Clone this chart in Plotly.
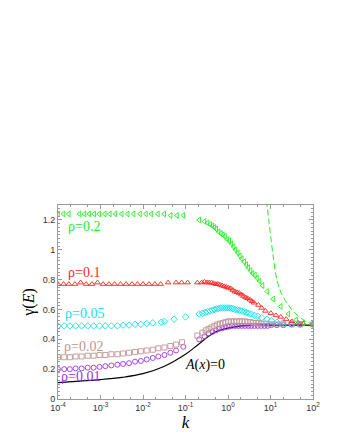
import plotly.graph_objects as go

# ---------------- data ----------------
# rho = 0.2 (green, left triangles)
k_r20 = [1.0e-4, 1.35e-4, 1.8e-4, 3.2e-4, 4.2e-4, 5.4e-4, 7.1e-4, 9.3e-4, 1.26e-3, 1.66e-3,
         2.24e-3, 3.16e-3, 4.37e-3, 6.03e-3, 8.5e-3, 1.17e-2, 1.58e-2, 2.24e-2, 3.16e-2,
         4.47e-2, 6.3e-2, 8.9e-2, 0.21, 0.28, 0.33, 0.38, 0.43, 0.48, 0.53, 0.6, 0.68, 0.76,
         0.85, 0.95, 1.07, 1.2, 1.35, 1.5, 1.7, 1.9, 2.1, 2.4, 2.7, 3.0, 3.4, 3.8, 4.3, 4.8,
         5.5, 6.5, 8.3, 11.5, 17.4, 26.3, 39.8, 58.9, 100.0]
g_r20 = [1.24, 1.24, 1.24, 1.24, 1.24, 1.24, 1.24, 1.24, 1.24, 1.24,
         1.24, 1.24, 1.24, 1.24, 1.24, 1.24, 1.24, 1.24, 1.24,
         1.23, 1.23, 1.23, 1.20, 1.19, 1.18, 1.17, 1.16, 1.15, 1.14, 1.12, 1.11, 1.10,
         1.09, 1.07, 1.06, 1.04, 1.02, 1.00, 0.98, 0.96, 0.94, 0.92, 0.90, 0.88, 0.86, 0.84,
         0.83, 0.81, 0.79, 0.76, 0.72, 0.67, 0.62, 0.57, 0.53, 0.51, 0.50]

# green dashed curve
k_dash = [7.6, 8.3, 9.1, 10.2, 12.0, 14.1, 17.8, 22.4, 26.3, 31.6, 39.8, 50.1, 63.1, 79.4, 100.0]
g_dash = [1.45, 1.30, 1.20, 1.08, 0.92, 0.80, 0.71, 0.66, 0.63, 0.60, 0.57, 0.545, 0.525, 0.51, 0.50]

# rho = 0.1 (red, up triangles)
k_r10 = [1.0e-4, 1.35e-4, 1.8e-4, 2.5e-4, 3.4e-4, 4.6e-4, 6.3e-4, 8.5e-4, 1.15e-3, 1.58e-3,
         2.14e-3, 2.95e-3, 4.0e-3, 5.5e-3, 7.4e-3, 1.0e-2, 1.38e-2, 1.9e-2, 2.6e-2,
         3.9e-2, 6.0e-2, 8.1e-2, 0.112, 0.19, 0.24, 0.28, 0.32, 0.36, 0.41, 0.46, 0.52,
         0.58, 0.65, 0.73, 0.82, 0.92, 1.03, 1.16, 1.3, 1.46, 1.64, 1.84, 2.07, 2.32, 2.6,
         2.9, 3.3, 3.7, 4.1, 5.2, 6.2, 7.6, 10.2, 13.5, 17.4, 23.4, 31.6, 44.7, 58.9, 100.0]
g_r10 = [0.77, 0.77, 0.77, 0.77, 0.78, 0.77, 0.77, 0.78, 0.77, 0.77,
         0.77, 0.77, 0.77, 0.77, 0.77, 0.77, 0.77, 0.77, 0.77,
         0.78, 0.78, 0.78, 0.78, 0.78, 0.78, 0.785, 0.78, 0.78, 0.78, 0.775, 0.77,
         0.77, 0.765, 0.76, 0.755, 0.75, 0.745, 0.74, 0.73, 0.72, 0.715, 0.71, 0.70, 0.69, 0.68,
         0.675, 0.665, 0.655, 0.645, 0.63, 0.61, 0.59, 0.575, 0.56, 0.55, 0.535, 0.52, 0.51, 0.505, 0.50]

# rho = 0.05 (cyan, diamonds)
k_r05 = [1.0e-4, 1.4e-4, 1.9e-4, 2.6e-4, 3.6e-4, 5.0e-4, 6.9e-4, 9.5e-4, 1.3e-3, 1.8e-3,
         2.5e-3, 3.4e-3, 4.7e-3, 6.5e-3, 8.9e-3, 1.22e-2, 1.7e-2, 2.7e-2, 3.2e-2,
         5.4e-2, 0.1, 0.21, 0.25, 0.29, 0.33, 0.38, 0.43, 0.48, 0.54, 0.6, 0.67, 0.75, 0.84,
         0.94, 1.05, 1.18, 1.32, 1.48, 1.66, 1.86, 2.1, 2.4, 2.7, 3.0, 3.5, 4.2, 5.0, 6.2,
         8.3, 10.5, 14.1, 19.5, 31.6, 50.1, 100.0]
g_r05 = [0.49, 0.49, 0.49, 0.49, 0.49, 0.49, 0.49, 0.49, 0.49, 0.49,
         0.49, 0.495, 0.495, 0.50, 0.50, 0.505, 0.51, 0.515, 0.52,
         0.535, 0.55, 0.57, 0.575, 0.58, 0.585, 0.59, 0.595, 0.60, 0.605, 0.607, 0.61, 0.61, 0.61,
         0.61, 0.61, 0.608, 0.605, 0.60, 0.598, 0.595, 0.59, 0.585, 0.58, 0.575, 0.57, 0.56, 0.555, 0.545,
         0.535, 0.525, 0.515, 0.51, 0.505, 0.50, 0.50]

# rho = 0.02 (rosy brown, squares)
k_r02 = [1.0e-4, 1.4e-4, 1.9e-4, 2.6e-4, 3.6e-4, 5.0e-4, 6.9e-4, 9.5e-4, 1.3e-3, 1.8e-3,
         2.5e-3, 3.4e-3, 4.7e-3, 6.5e-3, 8.9e-3, 1.22e-2, 1.7e-2, 2.3e-2, 3.2e-2, 4.4e-2,
         6.0e-2, 8.3e-2, 0.19, 0.25, 0.3, 0.35, 0.41, 0.48, 0.56, 0.65, 0.76, 0.88, 1.02, 1.19,
         1.38, 1.6, 1.86, 2.16, 2.5, 2.9, 3.4, 3.9, 4.6, 5.3, 6.2, 7.8, 10.0, 14.1, 20.0,
         31.6, 50.1, 100.0]
g_r02 = [0.28, 0.28, 0.28, 0.285, 0.285, 0.29, 0.29, 0.295, 0.295, 0.30,
         0.30, 0.305, 0.31, 0.315, 0.32, 0.325, 0.33, 0.34, 0.345, 0.355,
         0.365, 0.38, 0.425, 0.445, 0.46, 0.47, 0.48, 0.49, 0.50, 0.505, 0.51, 0.515, 0.52, 0.52,
         0.52, 0.52, 0.52, 0.52, 0.52, 0.515, 0.515, 0.51, 0.51, 0.51, 0.505, 0.505, 0.50, 0.50, 0.50,
         0.50, 0.50, 0.50]

# rho = 0.01 (purple, circles)
k_r01 = [1.0e-4, 1.4e-4, 1.9e-4, 2.6e-4, 3.6e-4, 5.0e-4, 6.9e-4, 9.5e-4, 1.3e-3, 1.8e-3,
         2.5e-3, 3.4e-3, 4.7e-3, 6.5e-3, 8.9e-3, 1.22e-2, 1.7e-2, 2.3e-2, 3.2e-2, 4.4e-2,
         6.0e-2, 8.9e-2, 0.21, 0.28, 0.35, 0.43, 0.52, 0.62, 0.74, 0.88, 1.05, 1.25, 1.48,
         1.76, 2.1, 2.5, 3.0, 3.5, 4.2, 5.0, 6.0, 7.2, 8.6, 10.5, 14.1, 20.0, 31.6, 50.1, 100.0]
g_r01 = [0.20, 0.20, 0.20, 0.205, 0.205, 0.21, 0.21, 0.215, 0.22, 0.225,
         0.23, 0.235, 0.24, 0.25, 0.255, 0.265, 0.275, 0.285, 0.295, 0.31,
         0.325, 0.35, 0.40, 0.42, 0.44, 0.45, 0.46, 0.47, 0.475, 0.48, 0.485, 0.49, 0.49,
         0.49, 0.49, 0.49, 0.49, 0.49, 0.49, 0.49, 0.49, 0.49, 0.49, 0.495, 0.495, 0.495, 0.50, 0.50, 0.50]

# A(x)=0 (black line)
k_a0 = [1.0e-4, 3.2e-4, 1.0e-3, 3.2e-3, 1.0e-2, 3.2e-2, 0.1, 0.19, 0.35, 0.62, 1.0, 1.6, 2.2,
        3.2, 5.0, 10.0, 31.6, 100.0]
g_a0 = [0.11, 0.12, 0.13, 0.145, 0.17, 0.22, 0.30, 0.36, 0.42, 0.46, 0.475, 0.485, 0.49,
        0.493, 0.495, 0.495, 0.495, 0.495]

x_ticks = [1e-4, 1e-3, 1e-2, 1e-1, 1e0, 1e1, 1e2]
x_tick_text = ["10<sup>-4</sup>", "10<sup>-3</sup>", "10<sup>-2</sup>", "10<sup>-1</sup>",
               "10<sup>0</sup>", "10<sup>1</sup>", "10<sup>2</sup>"]
y_ticks = [0, 0.2, 0.4, 0.6, 0.8, 1.0, 1.2]
y_tick_text = ["0", "0.2", "0.4", "0.6", "0.8", "1", "1.2"]

labels = ["ρ=0.2", "ρ=0.1", "ρ=0.05", "ρ=0.02", "ρ=0.01"]

# ---------------- figure ----------------
C_G = "#22ee22"
C_R = "#ff2222"
C_C = "#11e0e8"
C_B = "#c09494"
C_P = "#a030e8"

fig = go.Figure()

def mk(x, y, sym, col, size=5):
    fig.add_trace(go.Scatter(x=x, y=y, mode="markers",
                             marker=dict(symbol=sym, size=size, color=col,
                                         line=dict(color=col, width=0.9)),
                             showlegend=False, cliponaxis=True))

fig.add_trace(go.Scatter(x=k_a0, y=g_a0, mode="lines", line=dict(color="black", width=1.1,
                         shape="spline"), showlegend=False))
fig.add_trace(go.Scatter(x=k_dash, y=g_dash, mode="lines", line=dict(color=C_G, width=1,
                         dash="6px,3px", shape="spline"), showlegend=False))
mk(k_r01, g_r01, "circle-open", C_P)
mk(k_r02, g_r02, "square-open", C_B)
mk(k_r05, g_r05, "diamond-open", C_C)
mk(k_r10, g_r10, "triangle-up-open", C_R)
mk(k_r20, g_r20, "triangle-left-open", C_G)

ann_font = "Liberation Serif, Times New Roman, serif"
ann = [
    (-3.40, 1.155, labels[0], C_G),
    (-3.40, 0.85, labels[1], C_R),
    (-3.38, 0.57, labels[2], C_C),
    (-3.40, 0.355, labels[3], C_B),
    (-3.48, 0.15, labels[4], C_P),
]
for x, y, t, c in ann:
    fig.add_annotation(x=x, y=y, xref="x", yref="y", text=t, showarrow=False,
                       font=dict(family=ann_font, size=14, color=c))
fig.add_annotation(x=-0.55, y=0.23, xref="x", yref="y", text="<i>A</i>(<i>x</i>)=0",
                   showarrow=False, font=dict(family=ann_font, size=14, color="black"))

axis_common = dict(showline=True, linecolor="#9a9a9a", linewidth=1, mirror="allticks",
                   ticks="inside", ticklen=4, tickcolor="#9a9a9a", showgrid=False,
                   zeroline=False, tickfont=dict(family="Liberation Sans", size=9, color="#333333"))

fig.update_xaxes(type="log", range=[-4, 2], tickvals=x_ticks, ticktext=x_tick_text,
                 minor=dict(ticks="inside", ticklen=2, tickcolor="#9a9a9a", showgrid=False),
                 title=dict(text="<i>k</i>", font=dict(family=ann_font, size=17, color="black"),
                            standoff=0),
                 **axis_common)
fig.update_yaxes(range=[0, 1.3], tickvals=y_ticks, ticktext=y_tick_text,
                 minor=dict(ticks="inside", ticklen=2, tickcolor="#9a9a9a", dtick=0.025,
                            showgrid=False),
                 title=dict(text="γ(<i>E</i>)", font=dict(family=ann_font, size=16, color="black"),
                            standoff=4),
                 **axis_common)

fig.update_layout(width=340, height=440, margin=dict(l=50, r=35, t=197, b=49),
                  plot_bgcolor="white", paper_bgcolor="white")

fig.write_html("out.html")
